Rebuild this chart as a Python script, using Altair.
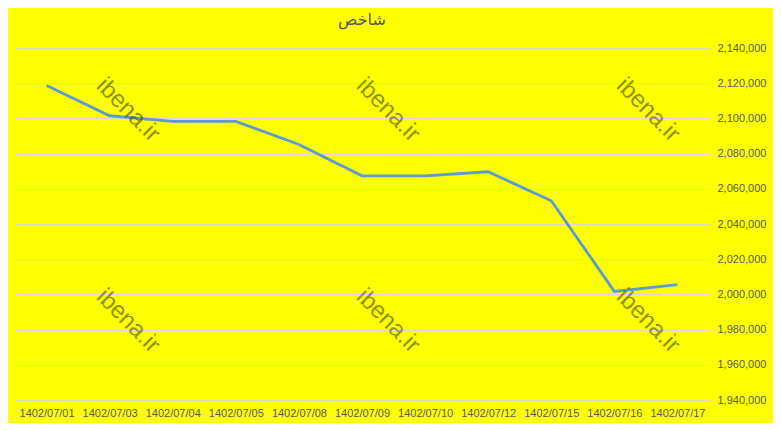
import altair as alt
import pandas as pd

dates = ["1402/07/01", "1402/07/03", "1402/07/04", "1402/07/05", "1402/07/08",
         "1402/07/09", "1402/07/10", "1402/07/12", "1402/07/15", "1402/07/16", "1402/07/17"]
values = [2118700, 2101500, 2098300, 2098300, 2085200,
          2067400, 2067400, 2069700, 2053200, 2001700, 2005500]
y_ticks = [1940000, 1960000, 1980000, 2000000, 2020000, 2040000,
           2060000, 2080000, 2100000, 2120000, 2140000]
title_text = "شاخص"
watermark = "ibena.ir"
wm_x = [113, 373, 633, 113, 373, 633]
wm_y = [62, 62, 62, 273, 273, 273]

df = pd.DataFrame({"date": dates, "value": values})
wm = pd.DataFrame({"x": wm_x, "y": wm_y, "t": [watermark] * 6})

W, H = 694, 352

base = alt.Chart(df)

line = base.mark_line(color="#5B9BD5", strokeWidth=2.8).encode(
    x=alt.X("date:N", sort=dates, scale=alt.Scale(type="point", padding=0.5),
            axis=alt.Axis(title=None, labelAngle=0, ticks=False, domain=False,
                          grid=False, labelFont="Liberation Sans", labelFontSize=11,
                          labelColor="#595959", labelPadding=7)),
    y=alt.Y("value:Q", scale=alt.Scale(domain=[1940000, 2140000], nice=False, zero=False),
            axis=alt.Axis(title=None, orient="right", values=y_ticks, format=",.0f",
                          ticks=False, domain=False, grid=True, gridColor="#D9D9D9",
                          gridWidth=1, labelFont="Liberation Sans", labelFontSize=11,
                          labelColor="#595959", labelPadding=8)),
)

wmk = alt.Chart(wm).mark_text(angle=45, font="Liberation Sans", fontSize=24,
                              color="#4A4A00", opacity=0.6).encode(
    x=alt.X("x:Q", scale=None),
    y=alt.Y("y:Q", scale=None),
    text="t:N",
)

chart = alt.layer(line, wmk).properties(
    width=W, height=H,
    title=alt.Title(title_text, font="DejaVu Sans", fontSize=16, color="#595959",
                    fontWeight="normal", anchor="middle", offset=14),
    background="#FFFF00",
    padding={"left": 7, "top": 40, "right": 64, "bottom": 23},
    autosize=alt.AutoSizeParams(type="none"),
).configure_view(stroke=None)

chart.save("out.html", embed_options={"renderer": "svg", "actions": False})
